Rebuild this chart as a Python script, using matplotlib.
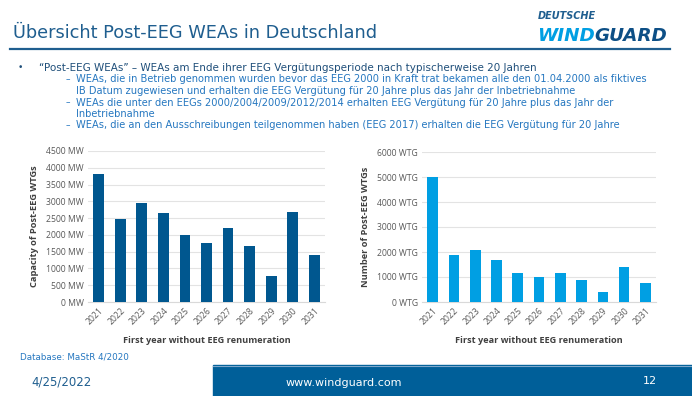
import matplotlib
matplotlib.use("Agg")
import matplotlib.pyplot as plt
from matplotlib.patches import Rectangle

# data
years = ["2021", "2022", "2023", "2024", "2025", "2026", "2027", "2028", "2029", "2030", "2031"]
capacity_mw = [3810, 2460, 2940, 2640, 1990, 1760, 2210, 1680, 770, 2680, 1410]
number_wtg = [5000, 1870, 2090, 1690, 1150, 1010, 1170, 880, 390, 1390, 760]

bullet_lines = [
    "\u201cPost-EEG WEAs\u201d \u2013 WEAs am Ende ihrer EEG Vergütungsperiode nach typischerweise 20 Jahren",
    "WEAs, die in Betrieb genommen wurden bevor das EEG 2000 in Kraft trat bekamen alle den 01.04.2000 als fiktives",
    "IB Datum zugewiesen und erhalten die EEG Vergütung für 20 Jahre plus das Jahr der Inbetriebnahme",
    "WEAs die unter den EEGs 2000/2004/2009/2012/2014 erhalten EEG Vergütung für 20 Jahre plus das Jahr der",
    "Inbetriebnahme",
    "WEAs, die an den Ausschreibungen teilgenommen haben (EEG 2017) erhalten die EEG Vergütung für 20 Jahre",
]
dash_rows = [1, 3, 5]

W, H = 692, 396
DARK = "#00578f"
LIGHT = "#009fe3"
TITLE_BLUE = "#1f5e8f"
TEXT_BLUE = "#2577c0"
GREY = "#595959"

fig = plt.figure(figsize=(W / 100, H / 100), dpi=100)


def px(x, y):
    return x / W, 1 - y / H


def axes_px(x0, y0, x1, y1):
    return fig.add_axes([x0 / W, 1 - y1 / H, (x1 - x0) / W, (y1 - y0) / H])


# header
fig.text(*px(13, 33), "Übersicht Post-EEG WEAs in Deutschland", fontsize=12.8,
         color=TITLE_BLUE, va="center", ha="left", family="DejaVu Sans")
fig.add_artist(plt.Line2D([10 / W, 670 / W], [1 - 49 / H] * 2, color=TITLE_BLUE, lw=1.6))
fig.text(*px(538, 16), "DEUTSCHE", fontsize=7, color=TITLE_BLUE, fontweight="bold",
         style="italic", va="center", ha="left", family="DejaVu Sans")
wind = fig.text(*px(537, 36), "WIND", fontsize=13.2, color=LIGHT, fontweight="heavy",
                style="italic", va="center", ha="left", family="DejaVu Sans")
fig.canvas.draw()
bb = wind.get_window_extent()
fig.text(bb.x1 / W, 1 - 36 / H, "GUARD", fontsize=13.2, color="#0d4f86", fontweight="heavy",
         style="italic", va="center", ha="left", family="DejaVu Sans")

# bullet text
line_y = [68, 79.5, 91, 102.5, 114, 125.5]
fig.text(*px(18, line_y[0]), "\u2022", fontsize=6.5, color="#1f4f7a", va="center")
for i, (txt, y) in enumerate(zip(bullet_lines, line_y)):
    if i == 0:
        fig.text(*px(39, y), txt, fontsize=7.45, color="#1f4f7a", va="center", family="DejaVu Sans")
    else:
        if i in dash_rows:
            fig.text(*px(66, y), "\u2013", fontsize=6.5, color=TEXT_BLUE, va="center")
        fig.text(*px(76, y), txt, fontsize=7.08, color=TEXT_BLUE, va="center", family="DejaVu Sans")


def bar_chart(ax, values, color, ymax, step, unit, ylabel):
    x = range(len(years))
    ax.bar(x, values, width=0.5, color=color, zorder=3)
    ax.set_xlim(-0.5, len(years) - 0.5)
    ax.set_ylim(0, ymax)
    ticks = list(range(0, ymax + 1, step))
    ax.set_yticks(ticks)
    ax.set_yticklabels([f"{t} {unit}" for t in ticks], fontsize=6.2, color=GREY, family="Open Sans")
    ax.set_xticks(list(x))
    ax.set_xticklabels(years, rotation=45, ha="right", rotation_mode="anchor",
                       fontsize=6.2, color=GREY, family="Open Sans")
    ax.grid(axis="y", color="#e3e3e3", lw=0.8, zorder=0)
    for s in ax.spines.values():
        s.set_visible(False)
    ax.spines["bottom"].set_visible(True)
    ax.spines["bottom"].set_color("#d9d9d9")
    ax.tick_params(length=0, pad=3)
    ax.set_ylabel(ylabel, fontsize=6.7, fontweight="bold", color="#404040", family="Open Sans",
                  labelpad=5)
    ax.set_xlabel("First year without EEG renumeration", fontsize=6.6, fontweight="bold",
                  color="#404040", family="Open Sans", labelpad=7)


ax1 = axes_px(88, 151, 325, 302)
bar_chart(ax1, capacity_mw, DARK, 4500, 500, "MW", "Capacity of Post-EEG WTGs")
ax2 = axes_px(422, 152, 656, 302)
bar_chart(ax2, number_wtg, LIGHT, 6000, 1000, "WTG", "Number of Post-EEG WTGs")

# footer
fig.text(*px(20, 357), "Database: MaStR 4/2020", fontsize=6.3, color=TEXT_BLUE, va="center",
         family="DejaVu Sans")
fig.text(*px(31, 382), "4/25/2022", fontsize=8.5, color=TITLE_BLUE, va="center", family="DejaVu Sans")
fig.add_artist(Rectangle(px(213, 396), (W - 213) / W, 31 / H, transform=fig.transFigure,
                         color="#005f99", zorder=1))
fig.add_artist(plt.Line2D([213 / W, 1], [1 - 365.5 / H] * 2, color="#7ea8cc", lw=0.8, zorder=2))
fig.text(*px(344, 383), "www.windguard.com", fontsize=8, color="white", va="center", ha="center",
         family="DejaVu Sans", zorder=3)
fig.text(*px(650, 381), "12", fontsize=8, color="white", va="center", ha="center",
         family="DejaVu Sans", zorder=3)

fig.savefig("out.png", dpi=100)
